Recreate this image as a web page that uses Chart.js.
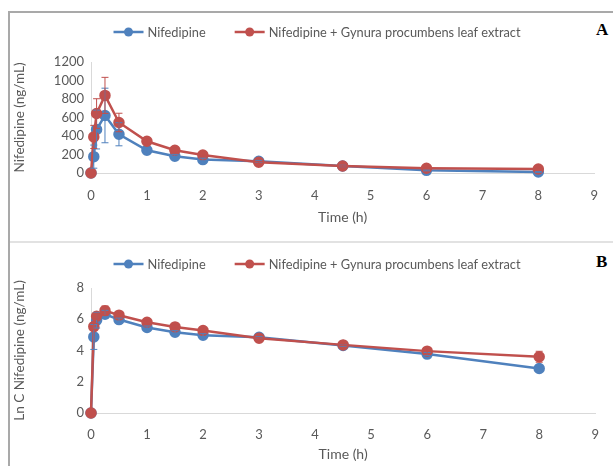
<!DOCTYPE html>
<html>
<head>
<meta charset="utf-8">
<script src="https://cdn.jsdelivr.net/npm/chart.js@4"></script>
<style>
  html,body{margin:0;padding:0;background:#fff;}
  body{width:613px;height:466px;position:relative;overflow:hidden;}
  .frameL{position:absolute;left:8px;top:11px;width:2px;height:455px;background:#a9a9a9;}
  .frameT{position:absolute;left:8px;top:11px;width:605px;height:1.5px;background:#a9a9a9;}
  .sep{position:absolute;left:10px;top:241px;width:603px;height:2px;background:#e2e2e2;}
  .lab{position:absolute;font-family:"Liberation Serif","Times New Roman",serif;font-weight:bold;font-size:17px;color:#000;}
  #wa{position:absolute;left:10px;top:13px;width:603px;height:228px;}
  #wb{position:absolute;left:10px;top:243px;width:603px;height:223px;}
</style>
</head>
<body>
<div class="frameL"></div>
<div class="frameT"></div>
<div class="sep"></div>
<div class="lab" style="left:596px;top:20px;">A</div>
<div class="lab" style="left:596px;top:252px;">B</div>
<div id="wa"><canvas id="ca" width="603" height="228"></canvas></div>
<div id="wb"><canvas id="cb" width="603" height="223"></canvas></div>
<script>
// ---- data ----
const times = [0, 0.05, 0.1, 0.25, 0.5, 1, 1.5, 2, 3, 4.5, 6, 8];
const seriesNames = ["Nifedipine", "Nifedipine + Gynura procumbens leaf extract"];
// Panel A: concentration (ng/mL)
const concNif      = [0, 177, 470, 622, 419, 246, 181, 145, 126, 76, 29, 11];
const concNifErr   = [0, 125, 210, 295, 125, 30, 20, 15, 10, 8, 6, 4];
const concNifG     = [0, 390, 643, 839, 546, 343, 246, 195, 116, 76, 51, 43];
const concNifGErr  = [0, 125, 160, 195, 100, 25, 20, 15, 10, 8, 8, 6];
// Panel B: Ln C
const lnNif        = [0, 4.87, 5.94, 6.32, 5.98, 5.47, 5.17, 4.98, 4.85, 4.32, 3.77, 2.85];
const lnNifErr     = [0, 0.8, 0.5, 0.25, 0.1, 0.1, 0.1, 0.1, 0.05, 0.05, 0.1, 0.1];
const lnNifG       = [0, 5.53, 6.19, 6.55, 6.26, 5.81, 5.51, 5.28, 4.79, 4.36, 3.96, 3.6];
const lnNifGErr    = [0, 0.2, 0.2, 0.3, 0.1, 0.1, 0.1, 0.1, 0.05, 0.05, 0.2, 0.35];
const xTicks = [0,1,2,3,4,5,6,7,8,9];
const yTicksA = [0,200,400,600,800,1000,1200];
const yTicksB = [0,2,4,6,8];

const BLUE = "#4F81BD", RED = "#C0504D", GREY = "#595959", AXIS = "#D9D9D9";
const FONT = "Lato";

function pts(ys){ return times.map((t,i)=>({x:t,y:ys[i]})); }

const errorBars = {
  id:'errorBars',
  afterDatasetsDraw(chart){
    const ctx = chart.ctx, xs = chart.scales.x, ys = chart.scales.y;
    chart.data.datasets.forEach((ds)=>{
      if(!ds.err) return;
      ctx.save();
      ctx.strokeStyle = ds.borderColor; ctx.lineWidth = 1;
      ds.data.forEach((p,i)=>{
        const e = ds.err[i]; if(!e) return;
        const x = xs.getPixelForValue(p.x);
        const y1 = ys.getPixelForValue(p.y + e), y2 = ys.getPixelForValue(p.y - e);
        ctx.beginPath();
        ctx.moveTo(x,y1); ctx.lineTo(x,y2);
        ctx.moveTo(x-3.5,y1); ctx.lineTo(x+3.5,y1);
        ctx.moveTo(x-3.5,y2); ctx.lineTo(x+3.5,y2);
        ctx.stroke();
      });
      ctx.restore();
    });
  }
};

const customLegend = {
  id:'customLegend',
  afterDraw(chart, args, opts){
    const ctx = chart.ctx;
    ctx.save();
    ctx.font = opts.fontSize + "px " + FONT;
    ctx.textBaseline = 'middle';
    const seg = 30, gap = 4, itemGap = 29;
    const items = chart.data.datasets.map(d=>({t:d.label,c:d.borderColor,w:ctx.measureText(d.label).width}));
    let total = items.reduce((s,it)=>s+seg+gap+it.w,0) + itemGap*(items.length-1);
    let x = opts.centerX - total/2;
    const y = opts.y;
    items.forEach(it=>{
      ctx.strokeStyle = it.c; ctx.lineWidth = 2.5;
      ctx.beginPath(); ctx.moveTo(x,y); ctx.lineTo(x+seg,y); ctx.stroke();
      ctx.fillStyle = it.c;
      ctx.beginPath(); ctx.arc(x+seg/2,y,4.5,0,Math.PI*2); ctx.fill();
      ctx.fillStyle = GREY;
      ctx.fillText(it.t, x+seg+gap, y+0.5);
      x += seg+gap+it.w+itemGap;
    });
    ctx.restore();
  }
};

function makeChart(id, a, aErr, b, bErr, yTicks, yTitle, top, xH, xTickPad, xTitlePadB, legendY){
  return new Chart(document.getElementById(id), {
    type:'line',
    data:{datasets:[
      {label:seriesNames[0], data:pts(a), err:aErr, borderColor:BLUE, backgroundColor:BLUE, clip:false, order:1,
       pointBackgroundColor:BLUE, pointBorderColor:BLUE, borderWidth:2.5, pointRadius:4.5, tension:0},
      {label:seriesNames[1], data:pts(b), err:bErr, borderColor:RED, backgroundColor:RED, clip:false, order:0,
       pointBackgroundColor:RED, pointBorderColor:RED, borderWidth:2.5, pointRadius:4.5, tension:0}
    ]},
    options:{
      responsive:false, animation:false, devicePixelRatio:1,
      layout:{padding:{top:top, right:15, left:0, bottom:0}},
      plugins:{legend:{display:false}, tooltip:{enabled:false},
        customLegend:{centerX:307, y:legendY, fontSize:12.8}},
      scales:{
        x:{type:'linear', min:0, max:9,
          afterBuildTicks(s){ s.ticks = xTicks.map(v=>({value:v})); },
          afterFit(s){ s.height = xH; },
          grid:{display:false, drawTicks:false},
          border:{display:true, color:AXIS, width:1},
          ticks:{color:GREY, font:{family:FONT, size:13}, padding:xTickPad, autoSkip:false, maxRotation:0,
                 callback:(v)=>String(v)},
          title:{display:true, text:'Time (h)', color:GREY, font:{family:FONT, size:14}, padding:{top:0,bottom:xTitlePadB}}
        },
        y:{min:yTicks[0], max:yTicks[yTicks.length-1],
          afterBuildTicks(s){ s.ticks = yTicks.map(v=>({value:v})); },
          ticks:{color:GREY, font:{family:FONT, size:13}, padding:7, autoSkip:false, callback:(v)=>String(v)},
          afterFit(s){ s.width = 81; },
          grid:{display:false, drawTicks:false},
          border:{display:true, color:AXIS, width:1},
          title:{display:true, text:yTitle, color:GREY, font:{family:FONT, size:13.5}, padding:{top:2,bottom:0}}
        }
      }
    },
    plugins:[errorBars, customLegend]
  });
}

makeChart('ca', concNif, concNifErr, concNifG, concNifGErr, yTicksA, 'Nifedipine (ng/mL)', 49, 68, 15, 15, 19);
makeChart('cb', lnNif, lnNifErr, lnNifG, lnNifGErr, yTicksB, 'Ln C Nifedipine (ng/mL)', 45, 53, 14, 3, 21);
</script>
</body>
</html>
